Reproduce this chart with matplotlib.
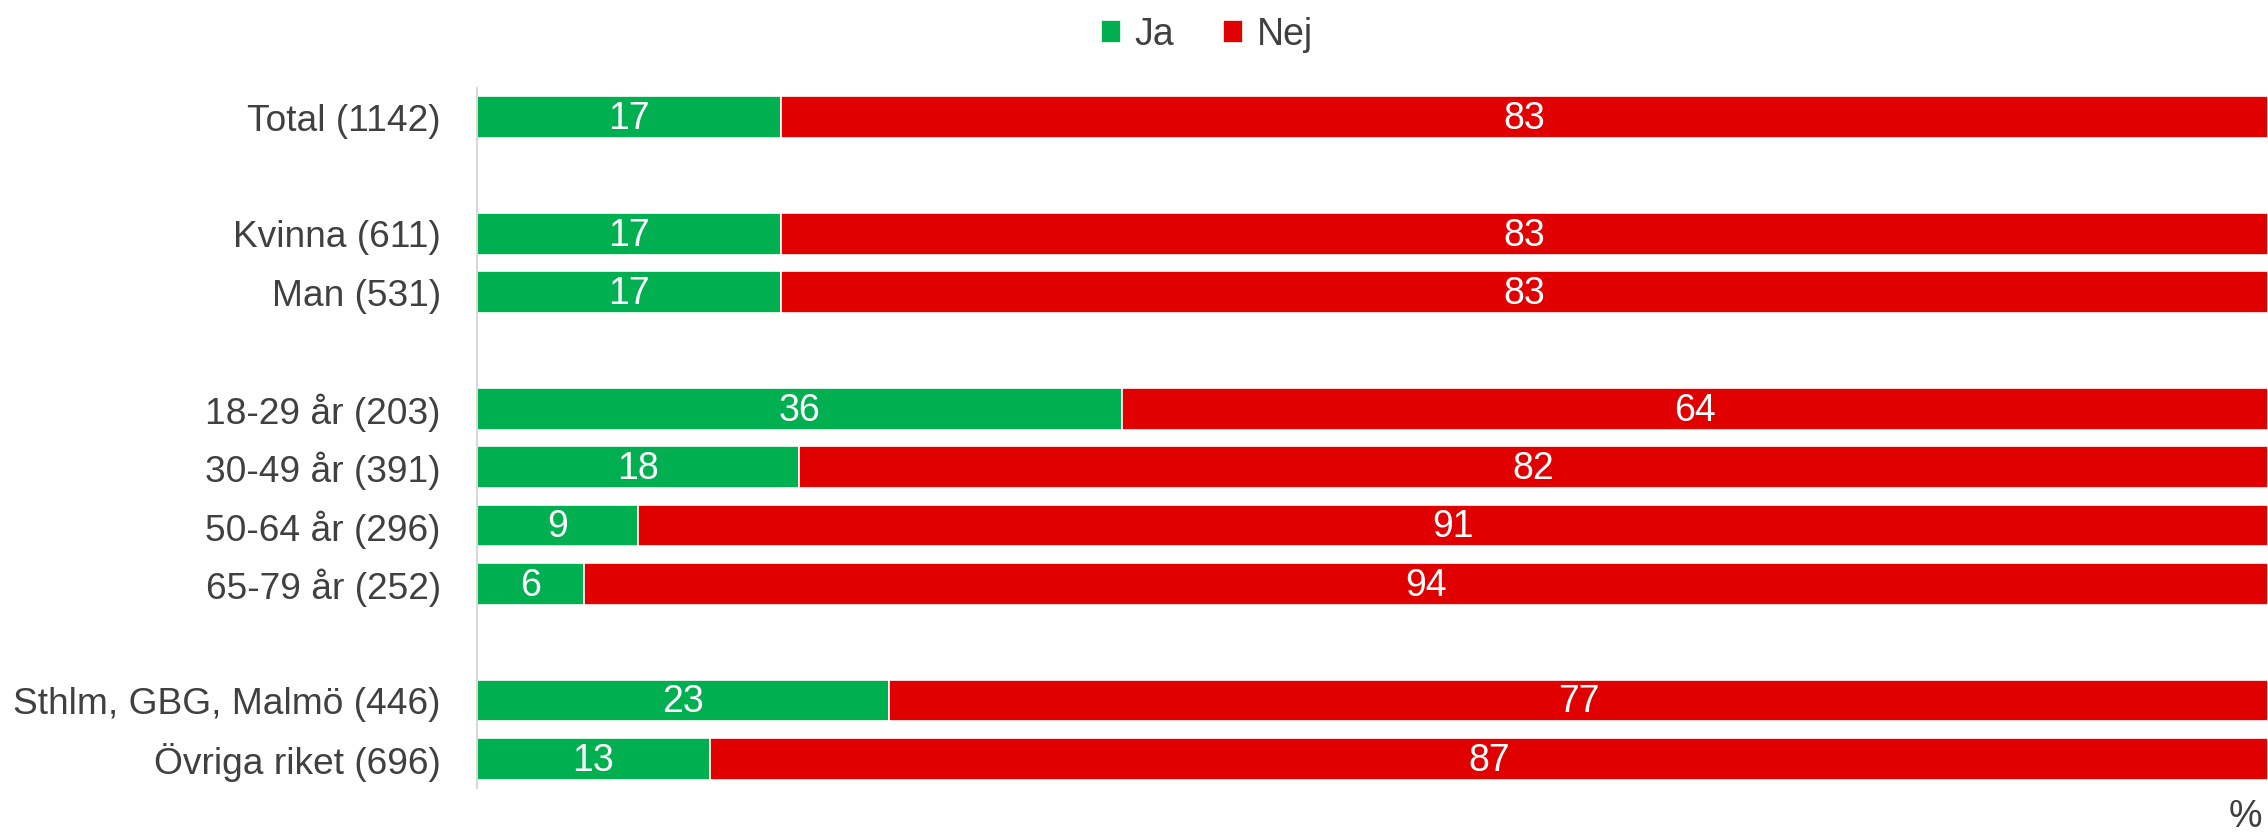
import numpy as np
import matplotlib.pyplot as plt

# survey groups, None marks an empty spacer row
categories = ["Total (1142)", None,
              "Kvinna (611)", "Man (531)", None,
              "18-29 år (203)", "30-49 år (391)", "50-64 år (296)", "65-79 år (252)", None,
              "Sthlm, GBG, Malmö (446)", "Övriga riket (696)"]
ja = [17, None, 17, 17, None, 36, 18, 9, 6, None, 23, 13]
nej = [83, None, 83, 83, None, 64, 82, 91, 94, None, 77, 87]

series_names = ["Ja", "Nej"]
colors = ["#00B050", "#E00000"]
text_color = "#404040"

plt.rcParams['font.family'] = ['Liberation Sans', 'DejaVu Sans']

fig = plt.figure(figsize=(22.68, 8.38), dpi=100)
ax = fig.add_axes([0.2103, 0.0597, 0.7897, 0.8353])

rows = [i for i, c in enumerate(categories) if c is not None]
ja_vals = np.array([ja[i] for i in rows])
nej_vals = np.array([nej[i] for i in rows])

bars_ja = ax.barh(rows, ja_vals, height=0.71, color=colors[0], edgecolor="white",
                  linewidth=1.2, label=series_names[0])
bars_nej = ax.barh(rows, nej_vals, left=ja_vals, height=0.71, color=colors[1],
                   edgecolor="white", linewidth=1.2, label=series_names[1])

# value labels in the middle of each segment
for bars, vals in [(bars_ja, ja_vals), (bars_nej, nej_vals)]:
    for b, v in zip(bars, vals):
        ax.text(b.get_x() + b.get_width() / 2, b.get_y() + b.get_height() / 2 + 0.03,
                str(v), ha="center", va="center", color="white", fontsize=27)

ax.set_xlim(0, 100)
ax.set_ylim(11.5, -0.5)
ax.set_yticks(rows)
ax.set_yticklabels([categories[i] for i in rows], fontsize=26.7, color=text_color)
ax.tick_params(axis="y", length=0, pad=26)
ax.set_xticks([])
for s in ["top", "right", "bottom"]:
    ax.spines[s].set_visible(False)
ax.spines["left"].set_color("#D9D9D9")
ax.spines["left"].set_linewidth(1.5)

leg = fig.legend(loc="upper center", bbox_to_anchor=(0.532, 1.02), ncol=2, frameon=False,
                 fontsize=27, handlelength=0.55, handleheight=0.55, handletextpad=0.35,
                 columnspacing=1.3)
for t in leg.get_texts():
    t.set_color(text_color)

fig.text(0.99, 0.025, "%", fontsize=27, color=text_color, ha="center", va="center")

fig.savefig("out.png", dpi=100)
